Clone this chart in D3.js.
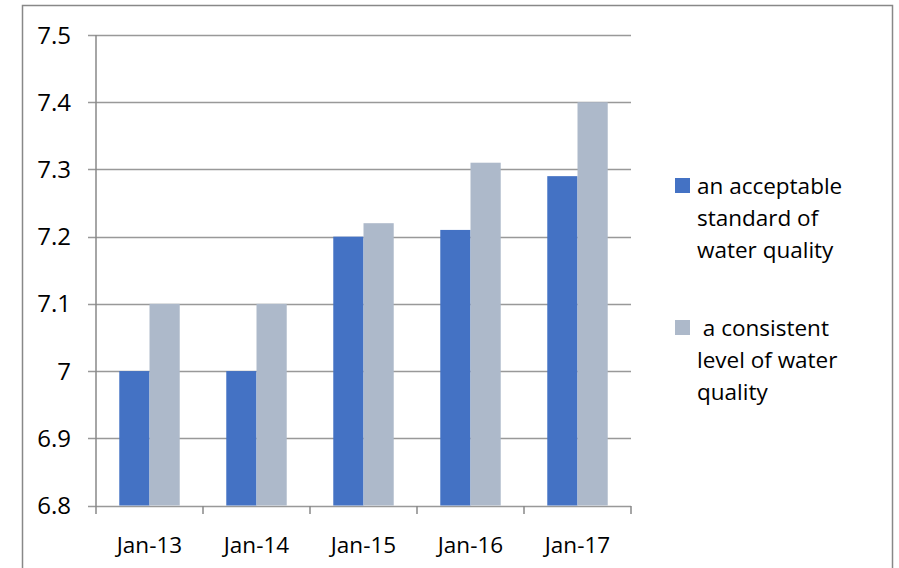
<!DOCTYPE html>
<html>
<head>
<meta charset="utf-8">
<script src="https://cdn.jsdelivr.net/npm/d3@7"></script>
<style>
  body { margin: 0; background: #fff; }
  text { font-family: "Open Sans", Lato, sans-serif; fill: #000; }
</style>
</head>
<body>
<svg id="chart" width="899" height="568"></svg>
<script>
var categories = ["Jan-13", "Jan-14", "Jan-15", "Jan-16", "Jan-17"];
var seriesNames = ["an acceptable standard of water quality", " a consistent level of water quality"];
var acceptable = [7.0, 7.0, 7.2, 7.21, 7.29];
var consistent = [7.1, 7.1, 7.22, 7.31, 7.4];
var yTicks = [6.8, 6.9, 7.0, 7.1, 7.2, 7.3, 7.4, 7.5];
var legendLines = [["an acceptable", "standard of", "water quality"], [" a consistent", "level of water", "quality"]];
var colors = ["#4472C4", "#ADB9CA"];

var svg = d3.select("#chart");

// outer frame
svg.append("rect")
    .attr("x", 22.5).attr("y", 5.5)
    .attr("width", 870).attr("height", 580)
    .attr("fill", "none")
    .attr("stroke", "#888").attr("stroke-width", 1.5);

var xScale = d3.scaleBand().domain(categories).range([96, 631]).paddingInner(0.435).paddingOuter(0.2175);
var xOuter = d3.scaleBand().domain(categories).range([96, 631]);
var yScale = d3.scaleLinear().domain([6.8, 7.5]).range([505.5, 35]);

// gridlines
svg.append("g").selectAll("line")
    .data(yTicks)
    .enter().append("line")
    .attr("x1", 88).attr("x2", 631)
    .attr("y1", d => Math.round(yScale(d)) + 0.5)
    .attr("y2", d => Math.round(yScale(d)) + 0.5)
    .attr("stroke", "#999").attr("stroke-width", 1.5);

// bars
var sub = d3.scaleBand().domain([0, 1]).range([0, xScale.bandwidth()]);
var rows = categories.map(function (c, i) {
    return {cat: c, vals: [acceptable[i], consistent[i]]};
});
var groups = svg.append("g").selectAll("g")
    .data(rows)
    .enter().append("g")
    .attr("transform", d => "translate(" + xScale(d.cat) + ",0)");
groups.selectAll("rect")
    .data(d => d.vals.map((v, k) => ({k: k, v: v})))
    .enter().append("rect")
    .attr("x", d => sub(d.k))
    .attr("width", sub.bandwidth())
    .attr("y", d => yScale(d.v))
    .attr("height", d => yScale(6.8) - yScale(d.v))
    .attr("fill", d => colors[d.k]);

// y axis line
svg.append("line")
    .attr("x1", 96).attr("x2", 96)
    .attr("y1", 35).attr("y2", 506)
    .attr("stroke", "#888").attr("stroke-width", 1.5);

// x axis ticks
var xTickPos = categories.map(c => xOuter(c)).concat([631]);
svg.append("g").selectAll("line")
    .data(xTickPos)
    .enter().append("line")
    .attr("x1", d => d).attr("x2", d => d)
    .attr("y1", 506).attr("y2", 514)
    .attr("stroke", "#888").attr("stroke-width", 1.5);

// y labels
svg.append("g").selectAll("text")
    .data(yTicks)
    .enter().append("text")
    .attr("x", 71)
    .attr("y", d => yScale(d))
    .attr("dy", "0.36em")
    .attr("text-anchor", "end")
    .attr("font-size", 24)
    .text(d => d === 7 ? "7" : d3.format(".1f")(d));

// x labels
svg.append("g").selectAll("text")
    .data(categories)
    .enter().append("text")
    .attr("x", d => xOuter(d) + xOuter.bandwidth() / 2)
    .attr("y", 553)
    .attr("text-anchor", "middle")
    .attr("font-size", 22.5)
    .text(d => d);

// legend
var legend = svg.append("g").selectAll("g")
    .data(legendLines)
    .enter().append("g")
    .attr("transform", (d, i) => "translate(675," + (178 + i * 142) + ")");
legend.append("rect")
    .attr("width", 15).attr("height", 15)
    .attr("fill", (d, i) => colors[i]);
legend.append("text")
    .attr("x", 22)
    .attr("font-size", 22.5)
    .attr("xml:space", "preserve")
    .style("white-space", "pre")
    .selectAll("tspan")
    .data(d => d)
    .enter().append("tspan")
    .attr("x", 22)
    .attr("y", (d, j) => 16 + j * 32)
    .text(d => d);
</script>
</body>
</html>
